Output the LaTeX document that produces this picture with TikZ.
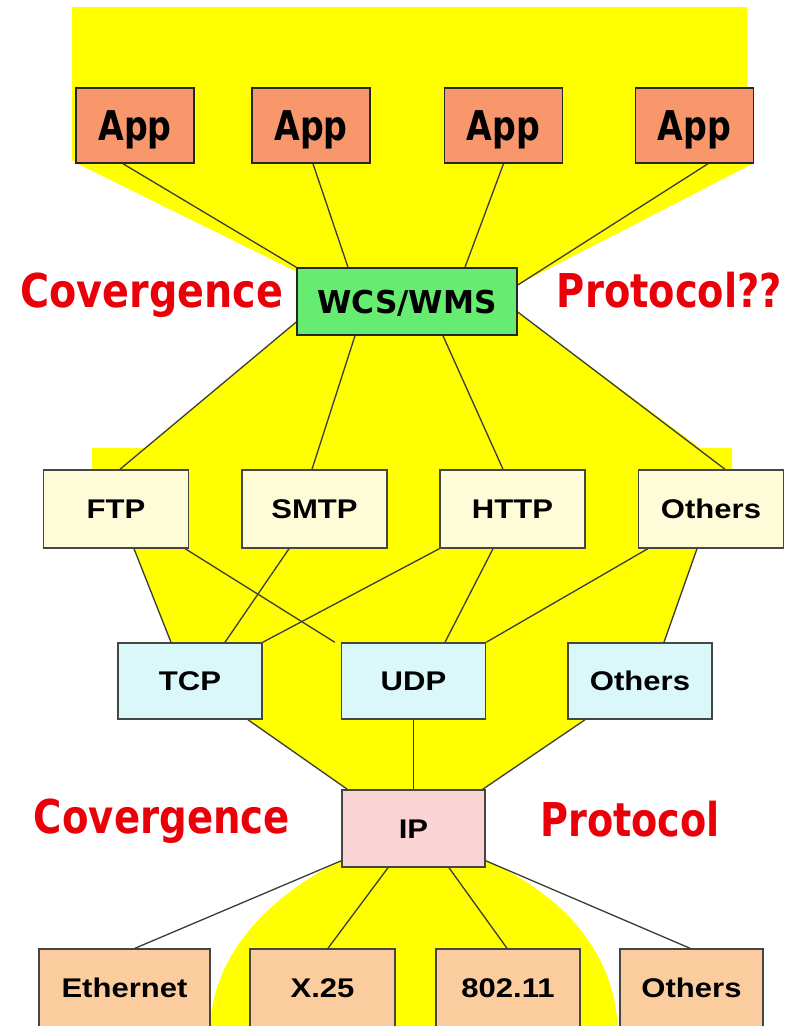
\documentclass[tikz,border=0pt]{standalone}
\usepackage{fontspec}
\newfontfamily\dejavu{DejaVu Sans}
\newfontfamily\liber{Liberation Sans}

\definecolor{funnel}{RGB}{255,255,0}
\definecolor{appfill}{RGB}{248,150,108}
\definecolor{wcsfill}{RGB}{102,236,112}
\definecolor{appproto}{RGB}{254,252,216}
\definecolor{transfill}{RGB}{218,247,249}
\definecolor{ipfill}{RGB}{250,212,212}
\definecolor{linkfill}{RGB}{251,204,158}
\definecolor{alert}{RGB}{234,0,8}
\definecolor{wire}{RGB}{60,60,50}
\definecolor{frame}{RGB}{70,70,70}

% text faces
\newcommand\apptext[1]{\scalebox{0.81}[1]{\dejavu\bfseries\fontsize{41}{41}\selectfont #1}}
\newcommand\prototext[1]{\scalebox{1.15}[1]{\liber\bfseries\fontsize{27}{27}\selectfont #1}}
\newcommand\wcstext[1]{\scalebox{0.99}[1]{\dejavu\bfseries\fontsize{31.5}{31.5}\selectfont #1}}
\newcommand\redtext[2]{\scalebox{#1}[1]{\dejavu\bfseries\fontsize{46.6}{46.6}\selectfont #2}}

\tikzset{
  boxbase/.style={draw=frame, line width=1.5pt, rectangle, inner sep=0pt, text depth=0pt},
  appbox/.style={boxbase, draw=black!85, fill=appfill, minimum width=118pt, minimum height=75pt, text height=30pt},
  wcsbox/.style={boxbase, draw=black!85, fill=wcsfill, minimum width=220pt, minimum height=67pt, text height=23pt},
  protobox/.style={boxbase, fill=appproto, minimum width=145pt, minimum height=78pt, text height=19pt},
  transbox/.style={boxbase, fill=transfill, minimum width=144pt, minimum height=76pt, text height=19pt},
  ipbox/.style={boxbase, fill=ipfill, minimum width=143pt, minimum height=77pt, text height=19pt},
  linkbox/.style={boxbase, fill=linkfill, minimum height=100pt, text height=19pt, text depth=23pt},
  wire/.style={draw=wire, line width=1.3pt},
  redlabel/.style={text=alert, anchor=base, inner sep=0pt},
}

\begin{document}
\begin{tikzpicture}[x=1pt, y=-1pt]
\clip (0,0) rectangle (801,1026);
\fill[white] (0,0) rectangle (801,1026);

% yellow convergence funnel
\fill[funnel] (72,7) -- (747,7) -- (748,160) -- (754,163) -- (517,285) -- (517,312)
  -- (700,448) -- (732,448) -- (732,470) -- (697,548) -- (664,643) -- (585,719)
  -- (482,790) -- (485,860) .. controls (560,893) and (615,950) .. (618,1030)
  -- (210,1030) .. controls (212,950) and (275,893) .. (342,860)
  -- (348,790) -- (248,719) -- (171,643) -- (134,548) -- (92,470) -- (92,448)
  -- (145,448) -- (297,322) -- (297,272) -- (76,163) -- (72,160) -- cycle;

% application row
\node[appbox] (app1) at (135,125.5) {\apptext{App}};
\node[appbox] (app2) at (311,125.5) {\apptext{App}};
\node[appbox] (app3) at (503.5,125.5) {\apptext{App}};
\node[appbox] (app4) at (694.5,125.5) {\apptext{App}};

% convergence layer
\node[wcsbox] (wcs) at (407,301.5) {\wcstext{WCS/WMS}};

% application protocols
\node[protobox] (ftp) at (116,509) {\prototext{FTP}};
\node[protobox] (smtp) at (314.5,509) {\prototext{SMTP}};
\node[protobox] (http) at (512.5,509) {\prototext{HTTP}};
\node[protobox] (apother) at (711,509) {\prototext{Others}};

% transport protocols
\node[transbox] (tcp) at (190,681) {\prototext{TCP}};
\node[transbox] (udp) at (413.5,681) {\prototext{UDP}};
\node[transbox] (trother) at (640,681) {\prototext{Others}};

% network layer
\node[ipbox] (ip) at (413.5,828.5) {\prototext{IP}};

% link layer
\node[linkbox, minimum width=171pt] (eth) at (124.5,999) {\prototext{Ethernet}};
\node[linkbox, minimum width=145pt] (x25) at (322.5,999) {\prototext{X.25}};
\node[linkbox, minimum width=144pt] (wifi) at (508,999) {\prototext{802.11}};
\node[linkbox, minimum width=143pt] (lkother) at (691.5,999) {\prototext{Others}};

% side labels
\node[redlabel] (conv1) at (152,307) {\redtext{0.852}{Covergence}};
\node[redlabel] (prot1) at (669.5,307) {\redtext{0.824}{Protocol??}};
\node[redlabel] (conv2) at (162,833) {\redtext{0.83}{Covergence}};
\node[redlabel] (prot2) at (630,836) {\redtext{0.82}{Protocol}};

% applications to WCS/WMS
\draw[wire] ([xshift=-12pt]app1.south) -- (wcs.north west);
\draw[wire] ([xshift=2pt]app2.south) -- ([xshift=-59pt]wcs.north);
\draw[wire] (app3.south) -- ([xshift=58pt]wcs.north);
\draw[wire] ([xshift=13.5pt]app4.south) -- ([yshift=16.5pt]wcs.east);

% WCS/WMS to application protocols
\draw[wire] ([yshift=-20.5pt]wcs.west) -- ([xshift=4pt]ftp.north);
\draw[wire] ([xshift=-52pt]wcs.south) -- ([xshift=-2.5pt]smtp.north);
\draw[wire] ([xshift=36pt]wcs.south) -- ([xshift=-9.5pt]http.north);
\draw[wire] ([yshift=-10.5pt]wcs.east) -- ([xshift=14pt]apother.north);

% application protocols to transport
\draw[wire] ([xshift=18pt]ftp.south) -- ([xshift=-19pt]tcp.north);
\draw[wire] ([xshift=-4pt]ftp.south east) -- ([xshift=-6pt]udp.north west);
\draw[wire] ([xshift=-25.5pt]smtp.south) -- ([xshift=35pt]tcp.north);
\draw[wire] (http.south west) -- (tcp.north east);
\draw[wire] ([xshift=-19.5pt]http.south) -- ([xshift=31.5pt]udp.north);
\draw[wire] ([xshift=10pt]apother.south west) -- (udp.north east);
\draw[wire] ([xshift=-14pt]apother.south) -- ([xshift=24pt]trother.north);

% transport to IP
\draw[wire] ([xshift=58pt]tcp.south) -- ([xshift=6pt]ip.north west);
\draw[wire] (udp.south) -- (ip.north);
\draw[wire] ([xshift=-55pt]trother.south) -- ([xshift=-3pt]ip.north east);

% IP to link layer
\draw[wire] ([yshift=7pt]ip.south west) -- ([xshift=10.5pt]eth.north);
\draw[wire] ([xshift=-25.5pt]ip.south) -- ([xshift=5.5pt]x25.north);
\draw[wire] ([xshift=35.5pt]ip.south) -- ([xshift=-1pt]wifi.north);
\draw[wire] ([yshift=7pt]ip.south east) -- ([xshift=-1.5pt]lkother.north);
\end{tikzpicture}
\end{document}
